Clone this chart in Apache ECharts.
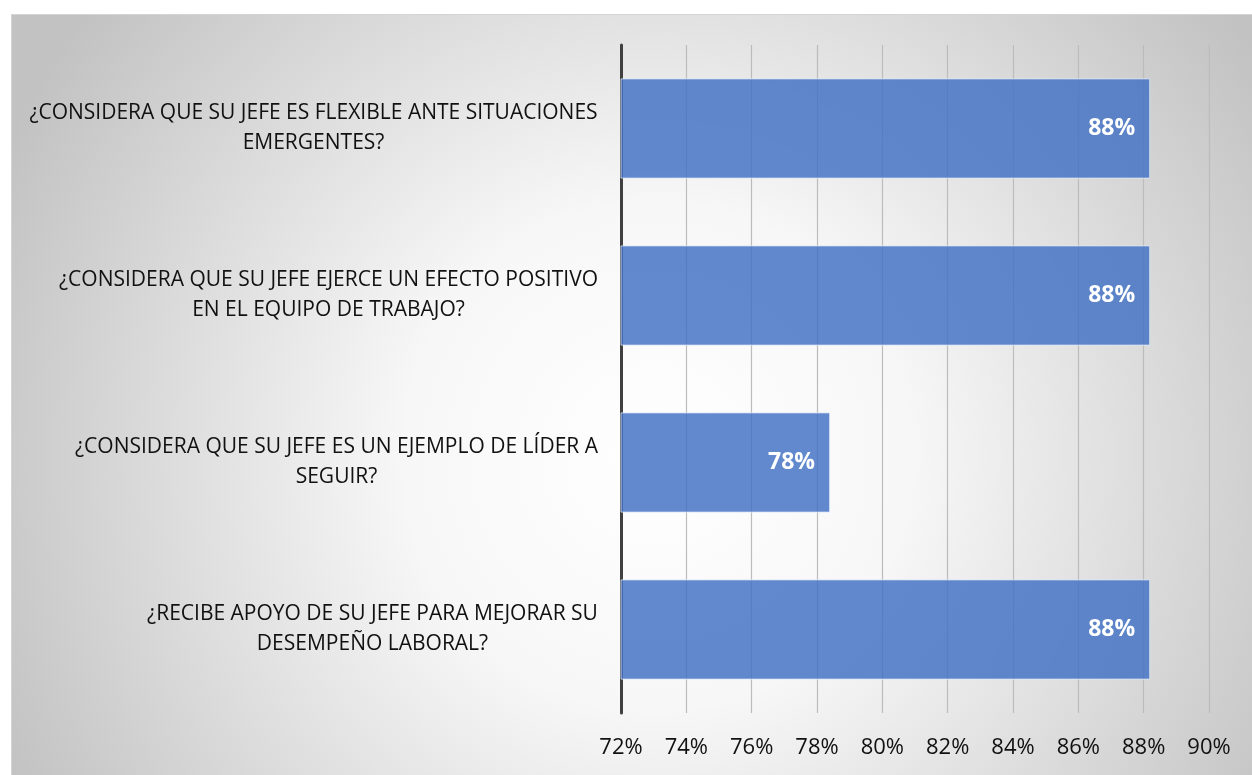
<!DOCTYPE html>
<html>
<head>
<meta charset="utf-8">
<script src="https://cdn.jsdelivr.net/npm/echarts@6/dist/echarts.min.js"></script>
<style>
  html, body { margin: 0; padding: 0; background: #ffffff; }
  #chart { position: absolute; left: 11px; top: 14px; width: 1240px; height: 760px;
           border: 1px solid #d4d4d4; border-right: none; border-bottom: none; }
</style>
</head>
<body>
<div id="chart"></div>
<script>
// Survey questions about the supervisor, top to bottom
const questions = [
  '¿CONSIDERA QUE SU JEFE ES FLEXIBLE ANTE SITUACIONES\nEMERGENTES?',
  '¿CONSIDERA QUE SU JEFE EJERCE UN EFECTO POSITIVO\nEN EL EQUIPO DE TRABAJO?',
  '¿CONSIDERA QUE SU JEFE ES UN EJEMPLO DE LÍDER A\nSEGUIR?',
  '¿RECIBE APOYO DE SU JEFE PARA MEJORAR SU\nDESEMPEÑO LABORAL?'
];
// Share of positive answers (%)
const shares = [88.2, 88.2, 78.4, 88.2];
// Value axis range (%)
const axisMin = 72;
const axisMax = 90;
const axisStep = 2;

const labelSize = 21;
const labelFamily = 'Open Sans';

// Measure each question's widest line so its lines can be centred on one another
const ctx = document.createElement('canvas').getContext('2d');
ctx.font = labelSize + 'px "' + labelFamily + '"';
const rich = {};
questions.forEach((q, i) => {
  const w = Math.max(...q.split('\n').map(s => ctx.measureText(s).width));
  rich['q' + i] = { width: Math.ceil(w) + 2, align: 'center', fontSize: labelSize,
                    fontFamily: labelFamily, color: '#111', lineHeight: 30 };
});

const chart = echarts.init(document.getElementById('chart'));
chart.setOption({
  backgroundColor: {
    type: 'radial', x: 0.52, y: 0.58, r: 0.95,
    colorStops: [
      { offset: 0, color: '#ffffff' },
      { offset: 0.35, color: '#f7f7f7' },
      { offset: 1, color: '#c2c2c2' }
    ]
  },
  grid: { left: 609, right: 43, top: 30, bottom: 62 },
  xAxis: {
    type: 'value', min: axisMin, max: axisMax, interval: axisStep,
    axisLine: { show: false },
    axisTick: { show: false },
    splitLine: { show: true, lineStyle: { color: '#bcbcbc', width: 1.2 } },
    axisLabel: {
      formatter: v => v + '%', margin: 24,
      fontSize: 22, fontFamily: labelFamily, color: '#111'
    }
  },
  yAxis: {
    type: 'category', data: questions, inverse: true,
    axisLine: { show: true, lineStyle: { color: '#404040', width: 3 } },
    axisTick: { show: false },
    axisLabel: {
      margin: 22,
      formatter: (val, idx) => '{q' + idx + '|' + val.split('\n').join('}\n{q' + idx + '|') + '}',
      rich
    }
  },
  series: [{
    type: 'bar', data: shares, barCategoryGap: '40%',
    itemStyle: { color: 'rgba(68,114,196,0.84)', borderColor: 'rgba(220,230,248,0.8)', borderWidth: 1 },
    label: {
      show: true, position: 'insideRight', distance: 15,
      formatter: p => Math.round(p.value) + '%',
      color: '#ffffff', fontWeight: 'bold', fontSize: 23, fontFamily: labelFamily
    },
    silent: true
  }],
  animation: false
});
</script>
</body>
</html>
